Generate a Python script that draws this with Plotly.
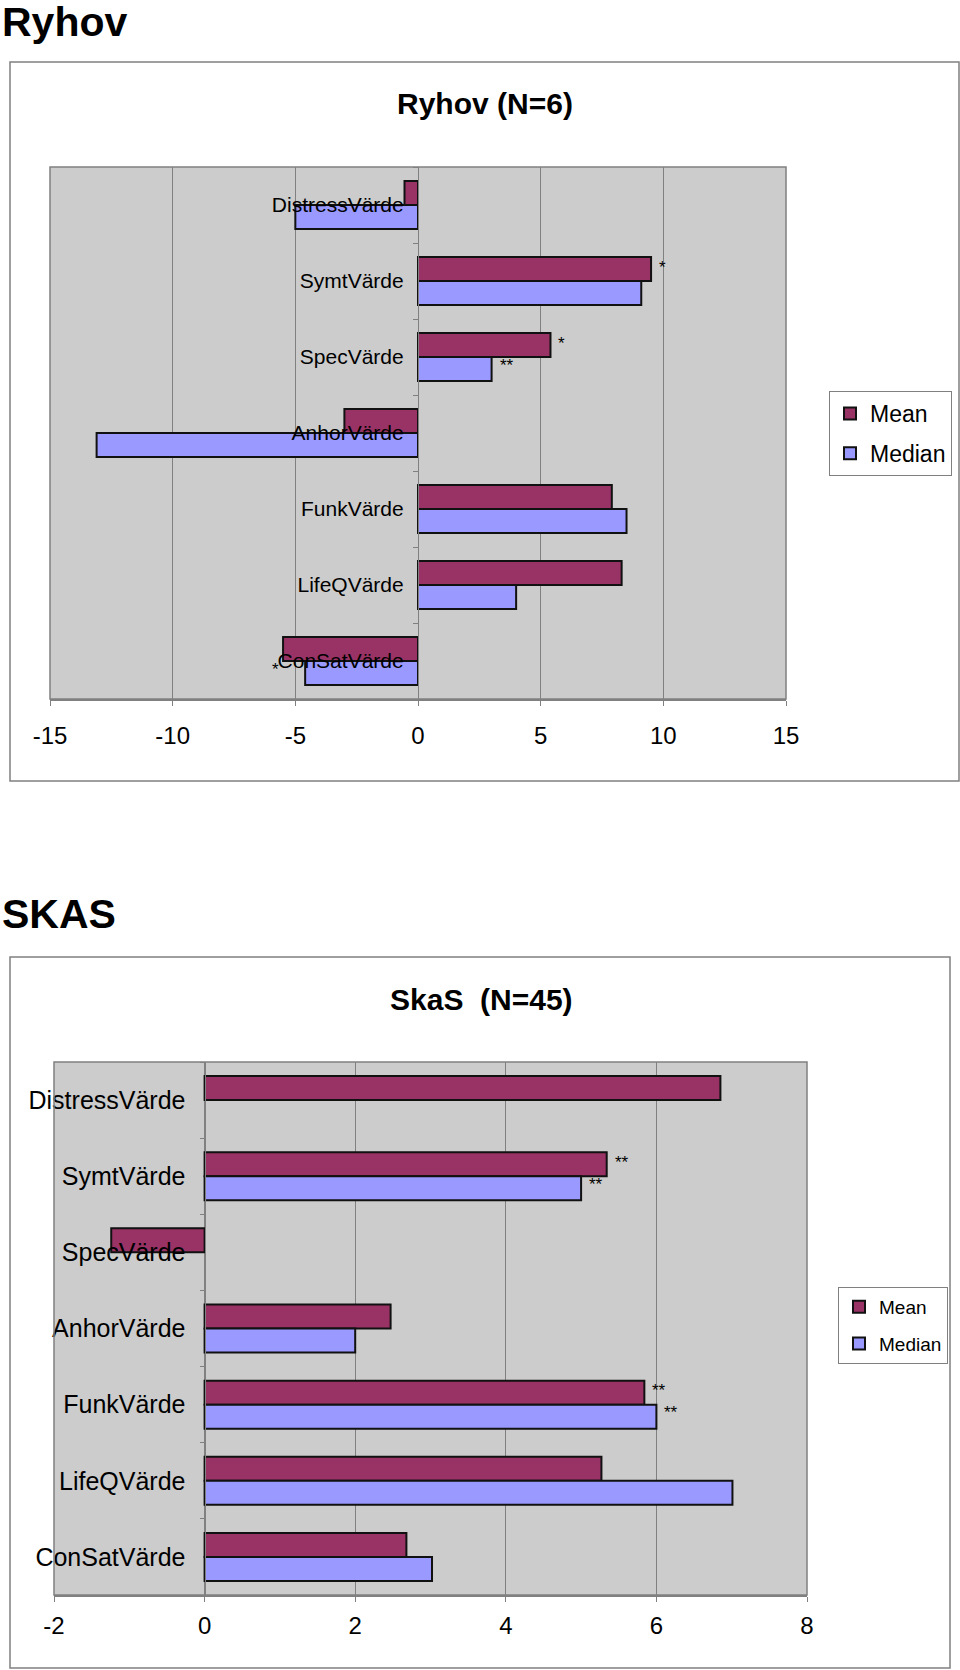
import plotly.graph_objects as go

categories = ["DistressVärde", "SymtVärde", "SpecVärde", "AnhorVärde",
              "FunkVärde", "LifeQVärde", "ConSatVärde"]

ryhov_mean = [-0.55, 9.5, 5.4, -3.0, 7.9, 8.3, -5.5]
ryhov_median = [-5.0, 9.1, 3.0, -13.1, 8.5, 4.0, -4.6]

skas_mean = [6.85, 5.34, -1.24, 2.47, 5.84, 5.27, 2.68]
skas_median = [None, 5.0, None, 2.0, 6.0, 7.01, 3.02]

ryhov_ticks = [-15, -10, -5, 0, 5, 10, 15]
ryhov_ticktext = ["-15", "-10", "-5", "0", "5", "10", "15"]
skas_ticks = [-2, 0, 2, 4, 6, 8]
skas_ticktext = ["-2", "0", "2", "4", "6", "8"]

# significance marks: (category, series, text)
ryhov_marks = [("SymtVärde", "mean", "*"), ("SpecVärde", "mean", "*"),
               ("SpecVärde", "median", "**")]
skas_marks = [("SymtVärde", "mean", "**"), ("SymtVärde", "median", "**"),
              ("FunkVärde", "mean", "**"), ("FunkVärde", "median", "**")]

MEAN_C = "#993366"
MED_C = "#9999FF"
GRID = "#808080"
FONT = "Liberation Sans, Arial, sans-serif"
W, H = 960, 1670

def px_x(p):
    return p / W

def px_y(p):
    return 1 - p / H

fig = go.Figure()

line = dict(color="#111111", width=2)
fig.add_trace(go.Bar(y=categories, x=ryhov_mean, orientation="h", name="Mean",
                     marker=dict(color=MEAN_C, line=line), xaxis="x", yaxis="y",
                     legend="legend", legendgroup="m1"))
fig.add_trace(go.Bar(y=categories, x=ryhov_median, orientation="h", name="Median",
                     marker=dict(color=MED_C, line=line), xaxis="x", yaxis="y",
                     legend="legend", legendgroup="d1"))
fig.add_trace(go.Bar(y=categories, x=skas_mean, orientation="h", name="Mean",
                     marker=dict(color=MEAN_C, line=line), xaxis="x2", yaxis="y2",
                     legend="legend2", legendgroup="m2"))
fig.add_trace(go.Bar(y=categories, x=skas_median, orientation="h", name="Median",
                     marker=dict(color=MED_C, line=line), xaxis="x2", yaxis="y2",
                     legend="legend2", legendgroup="d2"))

# plot-area pixel boxes
p1 = (50, 167, 786, 699)
p2 = (54, 1062, 807, 1595)
dom1x = [px_x(p1[0]), px_x(p1[2])]
dom1y = [px_y(p1[3]), px_y(p1[1])]
dom2x = [px_x(p2[0]), px_x(p2[2])]
dom2y = [px_y(p2[3]), px_y(p2[1])]

r1 = [-15, 15]
r2 = [-2, 8]
pos1 = dom1x[0] + (0 - r1[0]) / (r1[1] - r1[0]) * (dom1x[1] - dom1x[0])
pos2 = dom2x[0] + (0 - r2[0]) / (r2[1] - r2[0]) * (dom2x[1] - dom2x[0])

def xax(dom, rng, tv, tt, anchor, size, standoff):
    return dict(domain=dom, range=rng, tickvals=tv, ticktext=tt, anchor=anchor,
                showgrid=True, gridcolor=GRID, gridwidth=1, zeroline=False,
                showline=True, linecolor=GRID, linewidth=1.5, ticks="outside",
                ticklen=5, tickcolor=GRID,
                tickfont=dict(family=FONT, size=size, color="black"),
                ticklabelstandoff=standoff, fixedrange=True, automargin=False)

def yax(dom, pos, size, standoff):
    return dict(domain=dom, type="category", categoryorder="array",
                categoryarray=categories, autorange="reversed", anchor="free",
                position=pos, showline=True, linecolor=GRID, linewidth=1.2,
                ticks="outside", tickson="boundaries", ticklen=5, tickcolor=GRID,
                showgrid=False, zeroline=False,
                tickfont=dict(family=FONT, size=size, color="black"),
                ticklabelstandoff=standoff, fixedrange=True, automargin=False)

annotations = [
    dict(text="<b>Ryhov</b>", x=0, y=px_y(22), xref="paper", yref="paper",
         xanchor="left", yanchor="middle", showarrow=False,
         font=dict(family=FONT, size=41, color="black")),
    dict(text="<b>Ryhov (N=6)</b>", x=px_x(485), y=px_y(104), xref="paper", yref="paper",
         xanchor="center", yanchor="middle", showarrow=False,
         font=dict(family=FONT, size=30, color="black")),
    dict(text="<b>SKAS</b>", x=0, y=px_y(914), xref="paper", yref="paper",
         xanchor="left", yanchor="middle", showarrow=False,
         font=dict(family=FONT, size=41, color="black")),
    dict(text="<b>SkaS  (N=45)</b>", x=px_x(481), y=px_y(999), xref="paper", yref="paper",
         xanchor="center", yanchor="middle", showarrow=False,
         font=dict(family=FONT, size=30, color="black")),
]

def add_marks(marks, mean, median, xr, yr, size):
    for cat, ser, txt in marks:
        i = categories.index(cat)
        val = mean[i] if ser == "mean" else median[i]
        annotations.append(dict(text=txt, x=val, y=cat, xref=xr, yref=yr,
                                xanchor="left", yanchor="middle", showarrow=False,
                                xshift=6, yshift=(14 if ser == "mean" else -8),
                                font=dict(family=FONT, size=size, color="black")))

add_marks(ryhov_marks, ryhov_mean, ryhov_median, "x", "y", 17)
add_marks(skas_marks, skas_mean, skas_median, "x2", "y2", 17)
# star left of ConSatVärde (Ryhov)
ci = categories.index("ConSatVärde")
annotations.append(dict(text="*", x=ryhov_mean[ci], y="ConSatVärde", xref="x", yref="y",
                        xanchor="right", yanchor="middle", showarrow=False,
                        xshift=-2, yshift=-8, font=dict(family=FONT, size=17, color="black")))

shapes = [
    dict(type="rect", xref="paper", yref="paper", x0=px_x(10), x1=px_x(959),
         y0=px_y(781), y1=px_y(62), line=dict(color=GRID, width=1.5), layer="below"),
    dict(type="rect", xref="paper", yref="paper", x0=px_x(10), x1=px_x(950),
         y0=px_y(1668), y1=px_y(957), line=dict(color=GRID, width=1.5), layer="below"),
    dict(type="rect", xref="paper", yref="paper", x0=dom1x[0], x1=dom1x[1],
         y0=dom1y[0], y1=dom1y[1], line=dict(color=GRID, width=1.5), layer="above"),
    dict(type="rect", xref="paper", yref="paper", x0=dom2x[0], x1=dom2x[1],
         y0=dom2y[0], y1=dom2y[1], line=dict(color=GRID, width=1.5), layer="above"),
]

fig.update_layout(
    width=W, height=H, margin=dict(l=0, r=0, t=0, b=0, autoexpand=False),
    paper_bgcolor="white", plot_bgcolor="#CCCCCC",
    barmode="group", bargap=0.37, bargroupgap=0,
    xaxis=xax(dom1x, r1, ryhov_ticks, ryhov_ticktext, "y", 24, 9),
    yaxis=yax(dom1y, pos1, 21, 10),
    xaxis2=xax(dom2x, r2, skas_ticks, skas_ticktext, "y2", 24, 3),
    yaxis2=yax(dom2y, pos2, 25, 14),
    legend=dict(x=px_x(829), y=px_y(391), xanchor="left", yanchor="top",
                bordercolor=GRID, borderwidth=1, bgcolor="white",
                font=dict(family=FONT, size=23, color="black"), tracegroupgap=7),
    legend2=dict(x=px_x(838), y=px_y(1287), xanchor="left", yanchor="top",
                 bordercolor=GRID, borderwidth=1, bgcolor="white",
                 font=dict(family=FONT, size=19, color="black"), tracegroupgap=9),
    annotations=annotations, shapes=shapes, showlegend=True,
    font=dict(family=FONT),
)

fig.write_html("out.html", config={"displayModeBar": False},
               post_script="document.body.style.margin='0';")
